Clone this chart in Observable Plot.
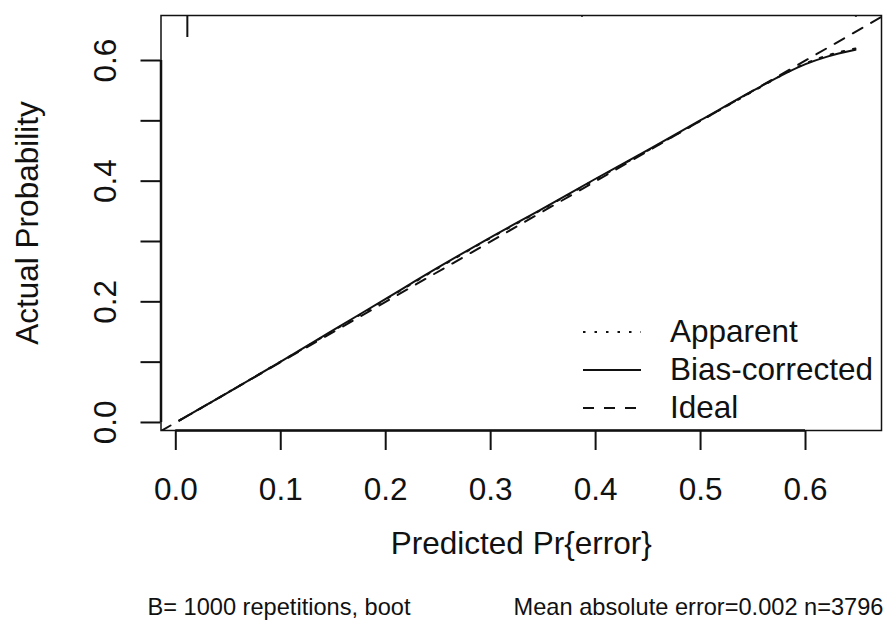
<!DOCTYPE html>
<html><head><meta charset="utf-8">
<script src="https://cdn.jsdelivr.net/npm/d3@7"></script>
<script src="https://cdn.jsdelivr.net/npm/@observablehq/plot@0.6"></script>
<style>body{margin:0;background:#fff} svg{display:block}</style>
</head><body><div id="chart"></div>
<script>
// ---- data ----
const predicted     = [0.0035, 0.05, 0.10, 0.15, 0.20, 0.25, 0.30, 0.35, 0.40, 0.45, 0.50, 0.55, 0.58, 0.60, 0.62, 0.6476];
const biasCorrected = [0.0033, 0.050, 0.101, 0.153, 0.205, 0.257, 0.307, 0.355, 0.404, 0.452, 0.501, 0.550, 0.578, 0.594, 0.606, 0.6177];
const apparent      = [0.0033, 0.050, 0.101, 0.152, 0.204, 0.256, 0.306, 0.354, 0.403, 0.451, 0.500, 0.549, 0.578, 0.595, 0.608, 0.620];
const riskX    = [0.011, 0.387, 0.648];   // distribution spikes at top
const riskFrac = [1, 0.08, 0.08];
const xTicks = [0, 0.1, 0.2, 0.3, 0.4, 0.5, 0.6];
const yTicks = [0, 0.1, 0.2, 0.3, 0.4, 0.5, 0.6];
const yLabelled = [0, 0.2, 0.4, 0.6];
const xDomain = [-0.0141, 0.6724];
const yDomain = [-0.0133, 0.6746];
const xLabel = "Predicted Pr{error}";
const yLabel = "Actual Probability";
const subLeft = "B= 1000 repetitions, boot";
const subRight = "Mean absolute error=0.002 n=3796";
const legendLabels = ["Apparent", "Bias-corrected", "Ideal"];
const legendDash = ["2.5 9", null, "11 10"];

// ---- chart ----
const FS = 31.5, SUB = 23.6, INK = "#111";
const rows = predicted.map((x, i) => ({x, bc: biasCorrected[i], ap: apparent[i]}));
const risk = riskX.map((x, i) => ({x, f: riskFrac[i]}));
const riskLen = 0.0365;

const legendMark = (index, scales, values, dims) => {
  const g = d3.create("svg:g");
  const right = dims.width - dims.marginRight, bottom = dims.height - dims.marginBottom;
  legendLabels.forEach((lab, i) => {
    const y = bottom - 98 + 38 * i;
    const l = g.append("line").attr("x1", right - 298).attr("x2", right - 240)
      .attr("y1", y).attr("y2", y).attr("stroke", INK).attr("stroke-width", 2);
    if (legendDash[i]) l.attr("stroke-dasharray", legendDash[i]);
    g.append("text").attr("x", right - 211).attr("y", y).attr("dy", "0.32em")
      .attr("text-anchor", "start").attr("font-size", FS).attr("fill", INK).text(lab);
  });
  return g.node();
};

const chart = Plot.plot({
  width: 884, height: 621,
  marginLeft: 160.5, marginRight: 3, marginTop: 15, marginBottom: 191,
  style: {fontFamily: "'Liberation Sans', Arial, sans-serif", background: "#fff", color: INK},
  x: {domain: xDomain},
  y: {domain: yDomain},
  marks: [
    Plot.line(xDomain, {x: d => d, y: d => d, stroke: INK, strokeWidth: 2, strokeDasharray: "11 10", clip: true}),
    Plot.line(rows, {x: "x", y: "ap", stroke: INK, strokeWidth: 2, strokeDasharray: "2.5 9", curve: "monotone-x"}),
    Plot.line(rows, {x: "x", y: "bc", stroke: INK, strokeWidth: 2, curve: "monotone-x"}),
    Plot.ruleX(risk, {x: "x", y1: yDomain[1], y2: d => yDomain[1] - d.f * riskLen, stroke: INK, strokeWidth: 2}),
    Plot.frame({stroke: INK, strokeWidth: 1.5}),
    Plot.ruleY([yDomain[0]], {x1: xTicks[0], x2: xTicks[xTicks.length - 1], stroke: INK, strokeWidth: 2.5}),
    Plot.ruleX([xDomain[0]], {y1: yTicks[0], y2: yTicks[yTicks.length - 1], stroke: INK, strokeWidth: 2.5}),
    Plot.axisX(xTicks, {anchor: "bottom", tickSize: 20, tickPadding: 27, fontSize: FS, strokeWidth: 2,
      tickFormat: d3.format(".1f"), label: null}),
    Plot.axisY(yTicks, {anchor: "left", tickSize: 20, tickPadding: 25, tickRotate: -90, fontSize: FS, strokeWidth: 2,
      tickFormat: d => yLabelled.includes(d) ? d.toFixed(1) : "", label: null}),
    Plot.text([xLabel], {text: d => d, frameAnchor: "bottom", dy: 123, lineAnchor: "bottom", fontSize: FS, fill: INK}),
    Plot.text([yLabel], {text: d => d, frameAnchor: "left", textAnchor: "middle", rotate: -90, dx: -123.5, lineAnchor: "bottom", fontSize: FS, fill: INK}),
    Plot.text([subLeft], {text: d => d, frameAnchor: "bottom-left", textAnchor: "start", dx: -13.5, dy: 184, lineAnchor: "bottom", fontSize: SUB, fill: INK}),
    Plot.text([subRight], {text: d => d, frameAnchor: "bottom-right", textAnchor: "end", dx: 2, dy: 184, lineAnchor: "bottom", fontSize: SUB, fill: INK}),
    legendMark
  ]
});
document.getElementById("chart").appendChild(chart);
</script>
</body></html>
